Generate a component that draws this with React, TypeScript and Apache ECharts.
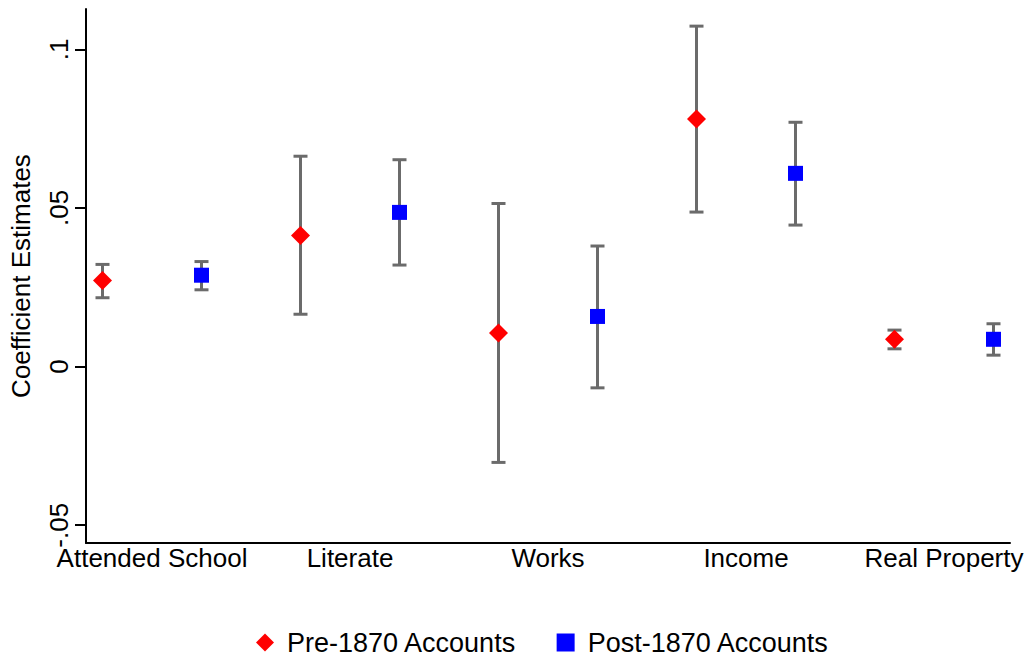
import React, { useEffect, useRef } from "react";
import * as echarts from "echarts";

const categories = ["Attended School", "Literate", "Works", "Income", "Real Property"];
const preEst = [0.0271, 0.0413, 0.0106, 0.078, 0.0086];
const preLow = [0.0217, 0.0165, -0.0302, 0.0487, 0.0056];
const preHigh = [0.0322, 0.0663, 0.0514, 0.1073, 0.0115];
const postEst = [0.0288, 0.0486, 0.0158, 0.0609, 0.0086];
const postLow = [0.0242, 0.032, -0.0067, 0.0446, 0.0036];
const postHigh = [0.0331, 0.0652, 0.038, 0.077, 0.0135];
const yTickValues = [-0.05, 0, 0.05, 0.1];
const yTickLabels = ["-.05", "0", ".05", ".1"];
const seriesNames = ["Pre-1870 Accounts", "Post-1870 Accounts"];

const FONT = "'Liberation Sans', Arial, sans-serif";

export default function App() {
  const ref = useRef<HTMLDivElement>(null);
  useEffect(() => {
    if (!ref.current) return;
    const chart = echarts.init(ref.current, null, { renderer: "svg" });
    const pos = (i: number, off: number) => i + 1 + off;
    const preData = preEst.map((v, i) => [pos(i, -0.25), v]);
    const postData = postEst.map((v, i) => [pos(i, 0.25), v]);
    const preErr = preLow.map((lo, i) => [pos(i, -0.25), lo, preHigh[i]]);
    const postErr = postLow.map((lo, i) => [pos(i, 0.25), lo, postHigh[i]]);
    const renderErr = (params: any, api: any) => {
      const x = api.value(0);
      const pLo = api.coord([x, api.value(1)]);
      const pHi = api.coord([x, api.value(2)]);
      const hw = 7;
      const style = { stroke: "#6b6b6b", lineWidth: 3 };
      return {
        type: "group",
        children: [
          { type: "line", shape: { x1: pLo[0], y1: pLo[1], x2: pHi[0], y2: pHi[1] }, style },
          { type: "line", shape: { x1: pLo[0] - hw, y1: pLo[1], x2: pLo[0] + hw, y2: pLo[1] }, style },
          { type: "line", shape: { x1: pHi[0] - hw, y1: pHi[1], x2: pHi[0] + hw, y2: pHi[1] }, style },
        ],
      };
    };
    chart.setOption({
      animation: false,
      textStyle: { fontFamily: FONT, color: "#000" },
      grid: { left: 85, right: 18, top: 9, bottom: 114, containLabel: false },
      xAxis: {
        type: "value",
        min: 2 / 3,
        max: 16 / 3,
        axisLine: { show: true, onZero: false, lineStyle: { color: "#000", width: 2 } },
        axisTick: { show: false },
        splitLine: { show: false },
        axisLabel: {
          customValues: [1, 2, 3, 4, 5],
          formatter: (v: number) => categories[Math.round(v) - 1] ?? "",
          fontSize: 26,
          fontFamily: FONT,
          color: "#000",
          margin: 2,
          hideOverlap: false,
        },
      },
      yAxis: {
        type: "value",
        min: -0.0556,
        max: 0.1127,
        name: "Coefficient Estimates",
        nameLocation: "middle",
        nameRotate: 90,
        nameGap: 52,
        nameTextStyle: { fontSize: 26, fontFamily: FONT, color: "#000" },
        axisLine: { show: true, onZero: false, lineStyle: { color: "#000", width: 2 } },
        axisTick: { show: true, customValues: yTickValues, length: 11, lineStyle: { color: "#000", width: 2 } },
        splitLine: { show: false },
        axisLabel: {
          customValues: yTickValues,
          rotate: 90,
          formatter: (v: number) => {
            const idx = yTickValues.findIndex((t) => Math.abs(t - v) < 1e-9);
            return idx >= 0 ? yTickLabels[idx] : "";
          },
          fontSize: 26,
          fontFamily: FONT,
          color: "#000",
          margin: 14,
          showMinLabel: true,
          showMaxLabel: true,
        },
      },
      legend: {
        data: seriesNames,
        top: 629,
        left: 256,
        padding: 0,
        itemWidth: 18,
        itemHeight: 18,
        itemGap: 40,
        textStyle: { fontSize: 27, lineHeight: 26, fontFamily: FONT, color: "#000", padding: [0, 0, 0, 8] },
      },
      series: [
        { type: "custom", renderItem: renderErr, data: preErr, encode: { x: 0, y: [1, 2] }, z: 1, silent: true },
        { type: "custom", renderItem: renderErr, data: postErr, encode: { x: 0, y: [1, 2] }, z: 1, silent: true },
        {
          name: seriesNames[0],
          type: "scatter",
          symbol: "diamond",
          symbolSize: 19,
          itemStyle: { color: "#ff0000", opacity: 1 },
          data: preData,
          z: 5,
        },
        {
          name: seriesNames[1],
          type: "scatter",
          symbol: "rect",
          symbolSize: 15,
          itemStyle: { color: "#0000ff", opacity: 1 },
          data: postData,
          z: 5,
        },
      ],
    });
    return () => chart.dispose();
  }, []);
  return (
    <div
      ref={ref}
      style={{ position: "fixed", left: 0, top: 0, width: 1028, height: 657, background: "#fff" }}
    />
  );
}
